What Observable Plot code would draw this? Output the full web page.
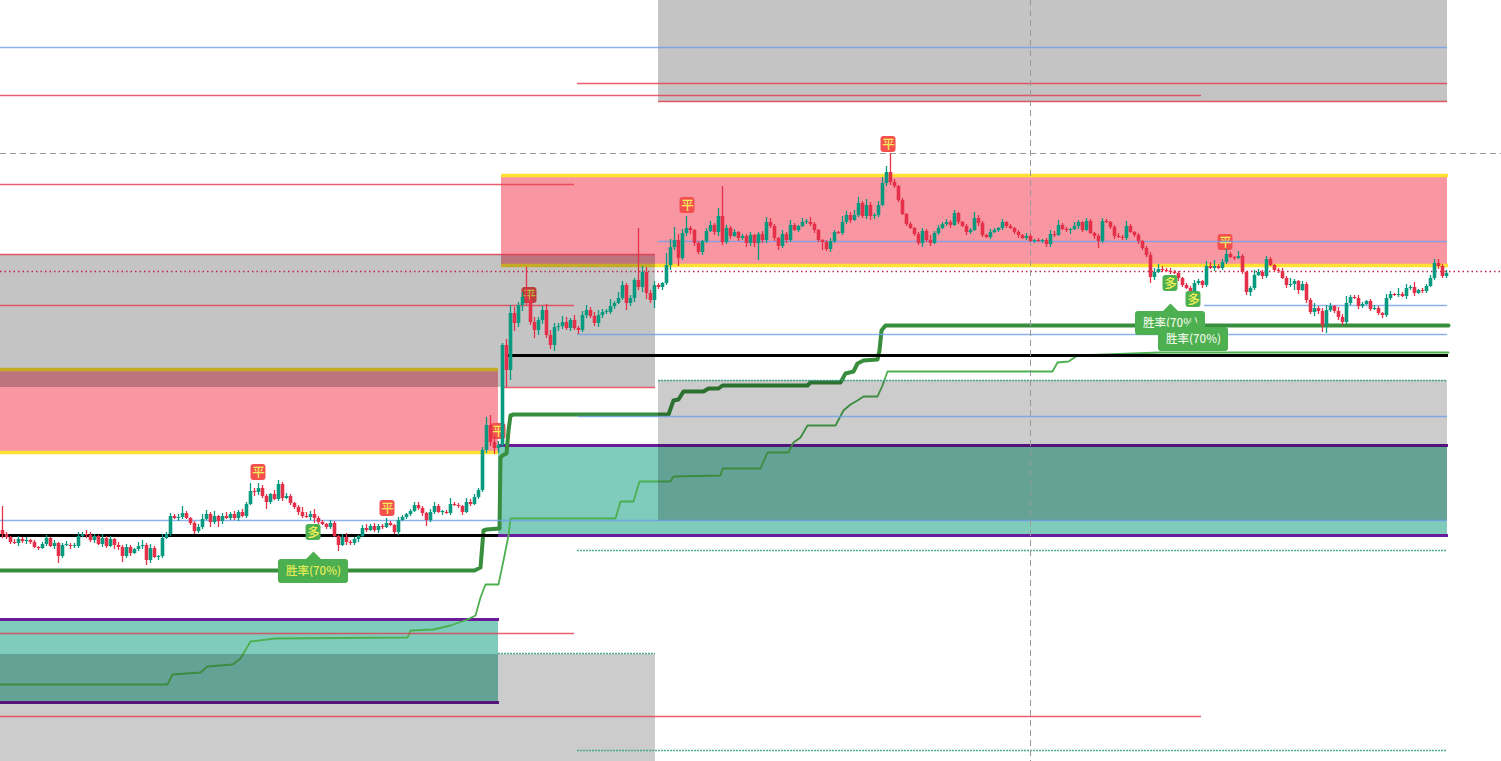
<!DOCTYPE html>
<html>
<head>
<meta charset="utf-8">
<style>
html,body{margin:0;padding:0;background:#fff;overflow:hidden}
svg{display:block;max-width:none}
</style>
<script src="https://cdn.jsdelivr.net/npm/d3@7"></script>
<script src="https://cdn.jsdelivr.net/npm/@observablehq/plot@0.6"></script>
</head>
<body>
<div id="chart"></div>
<script>
// Candle series: one bar every 4 time units, first bar at t = 2
const closes = [
466,463,458,457,461,459,460,458,453,452,456,462,454,457,444,455,455,454,454,464,
466,465,460,464,456,462,454,461,455,453,444,453,447,451,454,455,440,452,443,444,
462,466,484,482,483,487,482,477,469,473,481,486,478,484,479,484,482,486,482,488,
484,496,509,508,512,
504,498,506,501,516,502,504,497,493,488,484,483,486,482,478,476,473,477,464,455,
463,458,457,461,464,472,470,474,470,474,473,477,475,468,480,483,486,489,495,492,
487,480,488,494,488,488,487,496,495,494,488,498,496,503,510,
550,575,558,552,555,655,630,687,677,695,703,700,678,670,680,690,665,655,673,674,
678,672,680,672,670,685,690,684,677,685,688,688,694,697,702,715,697,702,720,713,
728,707,700,715,713,717,735,753,760,742,767,772,
770,757,748,759,769,775,768,784,758,772,764,768,762,764,757,765,757,766,760,778,
774,762,754,766,760,775,770,774,778,778,776,770,760,758,751,759,768,767,778,785,
780,785,797,784,795,784,785,795,817,828,
818,814,800,786,776,772,766,757,769,760,757,767,772,776,778,775,787,778,774,768,
770,782,777,765,763,768,770,772,778,774,772,768,765,762,764,759,760,759,760,756,
766,765,775,771,770,771,774,778,770,779,767,764,759,779,778,773,764,763,762,774,
768,765,759,752,745,
723,728,731,730,729,728,727,722,715,712,709,717,719,715,734,732,734,732,738,746,
743,742,744,728,708,712,725,728,724,741,735,730,729,722,715,716,719,710,716,700,
688,692,689,675,690,694,689,683,678,697,703,702,694,696,699,691,692,687,685,702,
706,705,706,704,712,713,707,710,709,714,722,737,734,724,727
];
const wickUp = [
24,2,1,3,3,2,3,1,2,1,2,3,1,3,1,2,3,2,2,4,2,4,3,2,1,4,2,3,1,3,2,3,2,1,4,5,2,4,2,1,
4,2,3,2,3,7,2,1,2,3,5,4,2,5,1,3,4,2,3,2,3,2,8,3,5,
3,2,1,4,4,2,3,2,1,2,5,4,3,5,2,2,1,3,2,1,3,4,2,2,1,3,4,2,3,2,2,5,2,1,3,2,1,2,3,3,
2,1,3,4,2,1,2,6,2,2,1,4,3,3,2,
3,8,10,6,4,2,6,8,6,3,5,30,6,5,3,4,6,5,4,3,6,5,2,5,2,4,5,3,4,5,3,2,7,2,6,4,2,3,2,52,
6,5,3,4,2,1,12,8,13,6,4,12,
2,1,2,1,3,4,2,8,30,3,2,3,1,2,2,3,1,2,3,5,4,2,1,4,2,5,2,1,4,2,5,2,1,1,2,3,2,1,6,4,
3,5,6,2,6,3,2,4,6,6,
19,3,1,2,1,2,1,2,3,2,5,2,3,2,3,2,3,1,1,2,2,6,3,2,1,3,2,1,3,1,2,1,2,1,3,2,1,2,1,2,
4,3,5,2,2,1,4,2,1,3,2,1,2,3,2,1,2,3,2,5,2,1,2,1,2,
3,4,5,3,2,3,2,2,1,2,2,3,2,1,5,4,6,2,3,5,2,1,5,2,1,2,5,3,2,3,2,1,2,3,2,6,2,1,3,2,
2,5,2,3,5,3,1,4,3,7,2,2,3,2,1,2,3,2,1,4,3,1,6,2,4,2,5,1,2,2,3,4,4,2,3
];
const wickDown = [
4,2,2,1,3,2,3,2,1,2,1,2,1,3,7,2,1,3,2,2,1,3,2,3,1,3,2,1,4,3,6,2,3,1,2,3,5,3,1,3,
2,1,2,1,3,2,1,2,3,2,2,1,5,2,6,3,1,2,2,3,1,2,1,4,3,
2,7,2,1,2,3,1,2,2,3,2,1,3,5,2,1,2,2,1,6,1,3,2,2,3,1,2,1,2,3,2,1,1,2,3,1,2,2,1,2,
3,6,2,2,1,3,1,2,1,2,3,1,2,1,2,
2,3,4,6,5,2,17,10,8,4,6,5,3,8,5,4,3,4,6,4,3,2,3,2,4,2,3,2,3,4,3,2,2,3,1,2,7,3,4,3,
5,6,3,8,2,3,2,5,3,8,2,3,
4,3,2,3,2,1,3,4,3,2,3,1,3,2,4,3,4,17,3,3,2,3,4,2,3,2,1,2,1,2,2,3,2,8,2,3,2,1,2,2,
3,1,2,2,3,4,3,2,1,3,
3,2,2,1,2,1,2,2,4,2,3,1,2,1,2,3,1,2,1,3,2,1,3,2,1,2,1,2,2,2,1,2,3,1,2,1,2,1,2,3,
3,2,1,1,2,4,1,3,2,1,1,3,7,2,1,2,3,1,2,2,1,2,3,2,2,
6,3,1,2,1,2,1,3,2,1,2,1,2,3,2,1,3,1,2,2,1,2,1,2,3,4,2,1,3,2,1,2,2,1,3,2,6,4,1,3,
2,4,3,7,8,2,2,3,3,2,2,1,3,2,1,2,1,2,3,2,2,1,2,1,3,2,3,1,2,2,1,2,3,2,2
];
const firstOpen = 470;

// Zones: time span and price span
const redZones   = [{t1:501,t2:1447,p1:735,p2:825},{t1:0,t2:498,p1:548,p2:631}];
const tealZones  = [{t1:498,t2:1447,p1:465,p2:555},{t1:0,t2:498,p1:298,p2:381}];
const grayZonesA = [{t1:658,t2:1447,p1:898,p2:1000},{t1:0,t2:655,p1:613,p2:746}];
const grayZonesB = [{t1:658,t2:1447,p1:479,p2:620},{t1:0,t2:655,p1:239,p2:346}];

// Horizontal levels
const yellowLevels = [{p:825,t1:501,t2:1448},{p:735,t1:501,t2:1448},{p:631,t1:0,t2:498},{p:548,t1:0,t2:498}];
const purpleLevels = [{p:555,t1:498,t2:1448},{p:465,t1:498,t2:1448},{p:381,t1:0,t2:499},{p:298,t1:0,t2:499}];
const blackLevels  = [{p:465,t1:0,t2:498},{p:645,t1:508,t2:1448}];
const blueLevels   = [{p:953,t1:0,t2:1447},{p:759,t1:658,t2:1447},{p:695,t1:1204,t2:1447},
                      {p:666,t1:577,t2:1447},{p:584,t1:578,t2:1447},{p:480,t1:0,t2:1447}];
const redLevels    = [{p:917,t1:577,t2:1447},{p:905,t1:0,t2:1201},{p:899,t1:658,t2:1447},{p:816,t1:0,t2:574},
                      {p:746,t1:0,t2:655},{p:695,t1:0,t2:574},{p:613,t1:501,t2:655},{p:367,t1:0,t2:574},{p:284,t1:0,t2:1201}];
const tealLevels   = [{p:620,t1:658,t2:1447},{p:450,t1:577,t2:1447},{p:347,t1:498,t2:655},{p:250,t1:577,t2:1447}];
const lastPrice = 729, crossPrice = 847, crossTime = 1030;

// Trailing lines
const thickT = [0,474,480,483,486,499,500,502,506,508,510,513,668,673,678,683,703,708,718,722,807,810,840,845,853,857,863,877,879,881,885,1448];
const thickP = [430,430,433,470,471,472,543,545,547,570,585,586,586,600,601,609,609,612,612,615,615,618,618,627,629,637,640,641,650,670,675,675];
const thinT = [0,167,172,200,207,232,240,250,275,407,410,433,450,467,475,480,485,498,503,508,510,615,620,633,639,670,673,720,722,760,767,788,793,800,807,835,843,850,857,863,877,882,887,1052,1057,1068,1077,1160,1448];
const thinP = [316,316,326,328,334,336,342,359,362,363,370,371,375,381,385,403,416,416,440,465,482,482,499,499,519,519,524,525,532,532,548,548,558,563,575,575,590,596,600,604,604,615,629,629,638,639,645,648,648];

// Signals
const flatSignals  = [{t:258,p:528},{t:387,p:492},{t:498,p:569},{t:529,p:705},{t:687,p:795},{t:888,p:856},{t:1225,p:758}];
const longSignals  = [{t:313,p:468},{t:1170,p:717},{t:1193,p:701}];
const winTags      = [{t:313,p:429},{t:1170,p:677},{t:1193,p:661}];
const flatLabel = "平", longLabel = "多", winLabel = "胜率(70%)";

// Derived tables
const candles = closes.map((c,i)=>{
  const o = i ? closes[i-1] : firstOpen;
  const cl = c === o ? c + 1 : c;
  return {t:2+i*4, o, c:cl, h:Math.max(o,cl)+wickUp[i], l:Math.min(o,cl)-wickDown[i], up:cl>o};
});
const thick = thickT.map((t,i)=>({t,p:thickP[i]}));
const thin  = thinT.map((t,i)=>({t,p:thinP[i]}));
const GREEN="#089981", RED="#e5304a";
const level = (rows,stroke,strokeWidth,extra={}) =>
  Plot.ruleY(rows,{y:"p",x1:"t1",x2:"t2",stroke,strokeWidth,...extra});
const zone = (rows,fill,fillOpacity) =>
  Plot.rectY(rows,{x1:"t1",x2:"t2",y1:"p1",y2:"p2",fill,fillOpacity});
const font="'Noto Sans CJK SC','Noto Sans',sans-serif";
const badge = (rows,fill,label) => [
  Plot.rect(rows,{x1:d=>d.t-7.5,x2:d=>d.t+7.5,y1:d=>d.p-8,y2:d=>d.p+8,fill,rx:3}),
  Plot.text(rows,{x:"t",y:"p",text:()=>label,fill:"#f2ee58",fontSize:12.5,fontWeight:500,fontFamily:font})
];
const pointer = {draw(ctx){ctx.moveTo(0,-4.5);ctx.lineTo(8,3.5);ctx.lineTo(-8,3.5);ctx.closePath();}};

const chart = Plot.plot({
  width:1501,height:761,margin:0,
  x:{domain:[0,1501],range:[0,1501],axis:null},
  y:{domain:[239,1000],range:[761,0],axis:null},
  style:{background:"#fff"},
  marks:[
    zone(redZones,"#f22f45",0.5),
    zone(tealZones,"#00977a",0.5),
    level(yellowLevels,"#ffe033",3.5),
    level(purpleLevels,"#6a1b9a",3),
    Plot.line(thin,{x:"t",y:"p",stroke:"#4caf50",strokeWidth:1.8}),
    Plot.line(thick,{x:"t",y:"p",stroke:"#388e3c",strokeWidth:4,strokeLinejoin:"round"}),
    level(blackLevels,"#000",3),
    ...badge(flatSignals,"#f4504f",flatLabel),
    zone(grayZonesA,"#000",0.23),
    zone(grayZonesB,"#000",0.2),
    level(blueLevels,"#6f9fe8",1.6,{strokeOpacity:.8}),
    level(redLevels,"#e23a4c",1.6,{strokeOpacity:.8}),
    level(tealLevels,"#2f9e83",1.6,{strokeDasharray:"2 1",strokeOpacity:.85}),
    Plot.ruleY([lastPrice],{stroke:"#c0284a",strokeWidth:1.6,strokeDasharray:"1.5 3"}),
    Plot.ruleY([crossPrice],{stroke:"#999",strokeWidth:1,strokeDasharray:"6 4"}),
    Plot.ruleX([crossTime],{stroke:"#999",strokeWidth:1,strokeDasharray:"6 4"}),
    Plot.ruleX(candles,{x:"t",y1:"l",y2:"h",stroke:d=>d.up?GREEN:RED,strokeWidth:1.3}),
    Plot.ruleX(candles,{x:"t",y1:"o",y2:"c",stroke:d=>d.up?GREEN:RED,strokeWidth:3.6}),
    ...badge(longSignals,"#4caf50",longLabel),
    ...winTags.flatMap(d=>[
      Plot.dot([d],{x:"t",y:q=>q.p+15.5,symbol:pointer,r:4,fill:"#4caf50"}),
      Plot.rect([d],{x1:q=>q.t-35,x2:q=>q.t+35,y1:q=>q.p-12,y2:q=>q.p+12,fill:"#4caf50",rx:3}),
      Plot.text([d],{x:"t",y:"p",text:()=>winLabel,fill:d.t===313?"#e4ec55":"#e8f5e0",fontSize:11.5,fontWeight:500,fontFamily:font})
    ])
  ]
});
document.getElementById("chart").appendChild(chart);
</script>
</body>
</html>
